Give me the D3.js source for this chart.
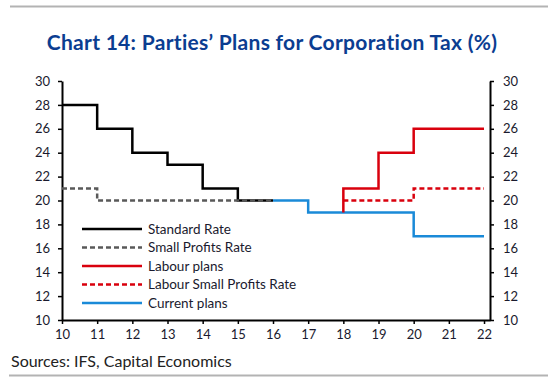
<!DOCTYPE html>
<html><head><meta charset="utf-8">
<script src="https://cdn.jsdelivr.net/npm/d3@7"></script>
<style>body{margin:0;background:#fff}svg{display:block}text{font-family:Lato,"Open Sans",sans-serif}</style>
</head><body><svg id="c" width="548" height="390"></svg>
<script>
const yTicks = [10,12,14,16,18,20,22,24,26,28,30];
const xTicks = [10,11,12,13,14,15,16,17,18,19,20,21,22];
const standardYears = [10,11,12,13,14,15,16];
const standardVals  = [28,26,24,23,21,20,20];
const smallYears = [10,11,12,13,14,15,16];
const smallVals  = [21,20,20,20,20,20,20];
const currentYears = [16,17,18,19,20,21,22];
const currentVals  = [20,19,19,19,17,17,17];
const labourYears = [18,18,19,20,21,22];
const labourVals  = [19,21,24,26,26,26];
const labourSmallYears = [18,19,20,21,22];
const labourSmallVals  = [20,20,21,21,21];
const seriesNames = ["Standard Rate","Small Profits Rate","Labour plans","Labour Small Profits Rate","Current plans"];

const svg = d3.select("#c");
const x = d3.scaleLinear().domain([10,22.17]).range([62,490]);
const y = d3.scaleLinear().domain([10,30]).range([320,81]);

svg.append("line").attr("x1",10).attr("x2",548).attr("y1",6.5).attr("y2",6.5).attr("stroke","#b3b3b3").attr("stroke-width",2);
svg.append("line").attr("x1",9).attr("x2",548).attr("y1",375.5).attr("y2",375.5).attr("stroke","#b3b3b3").attr("stroke-width",2);

svg.append("text").attr("x",272).attr("y",50).attr("text-anchor","middle")
  .attr("font-size",21).attr("font-weight","bold").attr("fill","#0b3d91").attr("letter-spacing",0.3)
  .text("Chart 14: Parties’ Plans for Corporation Tax (%)");

svg.append("text").attr("x",11).attr("y",367).attr("font-size",16).attr("fill","#222")
  .text("Sources: IFS, Capital Economics");

function styleAxis(g){
  g.select(".domain").attr("stroke","#000").attr("stroke-width",2);
  g.selectAll(".tick line").attr("stroke","#000").attr("stroke-width",1.5);
  g.selectAll(".tick text").attr("font-size",13).attr("fill","#1a1a2e").style("font-family","Lato, 'Open Sans', sans-serif");
}
const gl = svg.append("g").attr("transform","translate(62,0)")
  .call(d3.axisLeft(y).tickValues(yTicks).tickSize(4).tickSizeOuter(0).tickPadding(8));
styleAxis(gl);
const gr = svg.append("g").attr("transform","translate(490,0)")
  .call(d3.axisRight(y).tickValues(yTicks).tickSize(4).tickSizeOuter(0).tickPadding(9));
styleAxis(gr);
const gb = svg.append("g").attr("transform","translate(0,320)")
  .call(d3.axisBottom(x).tickValues(xTicks).tickSize(4).tickSizeOuter(0).tickPadding(6).tickFormat(d3.format("d")));
styleAxis(gb);

const line = d3.line().x(d=>x(d[0])).y(d=>y(d[1])).curve(d3.curveStepAfter);
const series = [
  {name:seriesNames[0], pts:d3.zip(standardYears,standardVals), color:"#000", dash:null},
  {name:seriesNames[1], pts:d3.zip(smallYears,smallVals), color:"#595959", dash:"5,3"},
  {name:seriesNames[4], pts:d3.zip(currentYears,currentVals), color:"#1a8ad8", dash:null},
  {name:seriesNames[2], pts:d3.zip(labourYears,labourVals), color:"#d9000d", dash:null},
  {name:seriesNames[3], pts:d3.zip(labourSmallYears,labourSmallVals), color:"#d9000d", dash:"5,3"}
];
svg.append("g").selectAll("path").data(series).join("path")
  .attr("d",d=>line(d.pts)).attr("fill","none").attr("stroke",d=>d.color)
  .attr("stroke-width",2.5).attr("stroke-dasharray",d=>d.dash);

const legendOrder = [0,1,3,4,2];
const leg = svg.append("g");
legendOrder.forEach((si,i)=>{
  const s = series[si];
  const yy = 229 + i*18.5;
  leg.append("line").attr("x1",82).attr("x2",142).attr("y1",yy).attr("y2",yy)
    .attr("stroke",s.color).attr("stroke-width",2.5).attr("stroke-dasharray",s.dash);
  leg.append("text").attr("x",148).attr("y",yy).attr("dy","0.35em").attr("font-size",13.5).attr("fill","#1a1a2e").text(s.name);
});
</script></body></html>
